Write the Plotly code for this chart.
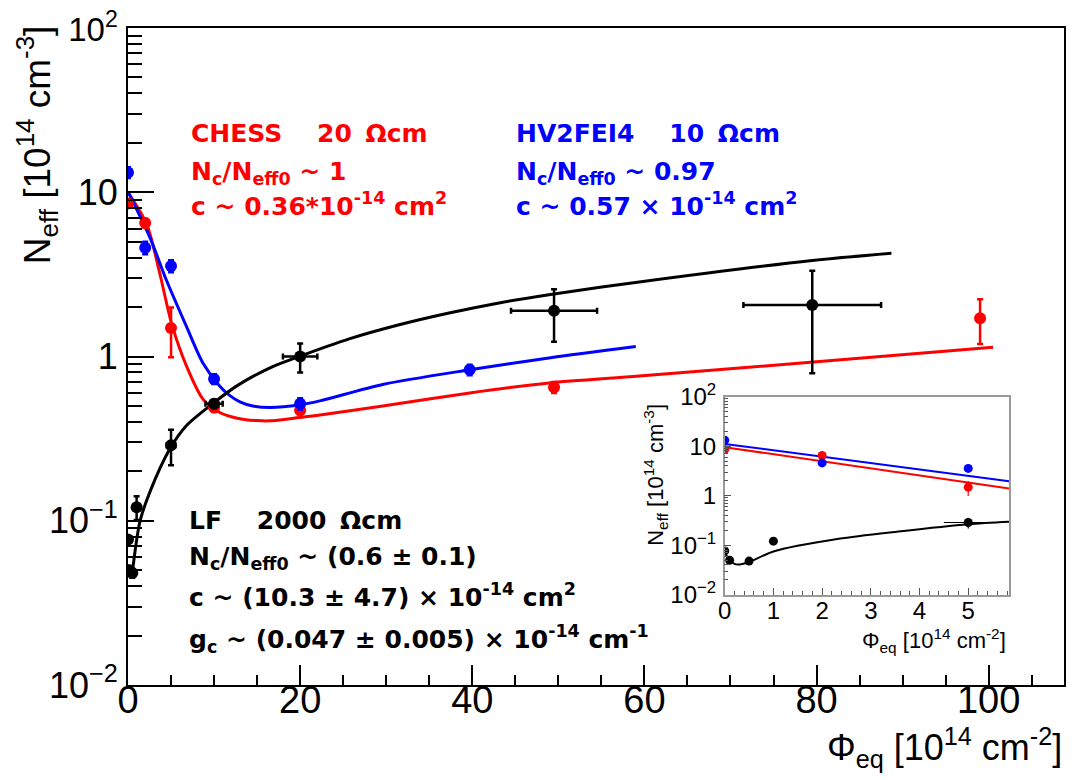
import plotly.graph_objects as go

# ---------------- data ----------------
# CHESS (red)
chess_x = [0, 2, 5, 10, 20, 49.5, 99]
chess_y = [8.55, 6.5, 1.49, 0.49, 0.47, 0.65, 1.71]
chess_ey = [0.3, 0.4, 0.5, 0.03, 0.03, 0.05, 0.52]

# HV2FEI4 (blue)
hv_x = [0, 2, 5, 10, 20, 39.7]
hv_y = [13.2, 4.6, 3.56, 0.73, 0.516, 0.83]
hv_ey = [1.0, 0.4, 0.3, 0.05, 0.04, 0.06]

# LF (black)
lf_x = [0, 0.1, 0.5, 1, 5, 10, 20, 49.5, 79.5]
lf_y = [0.077, 0.050, 0.048, 0.121, 0.288, 0.516, 1.0, 1.90, 2.06]
lf_ex = [0, 0, 0, 0, 0.5, 1, 2, 5, 8]
lf_ey = [0.003, 0.003, 0.003, 0.02, 0.07, 0.03, 0.2, 0.67, 1.27]

# fitted curves
chess_fit_x = [0, 2.17, 3.7, 5.06, 6.8, 8.73, 10.67, 12, 13.5, 15, 16.5, 19.9, 22.3, 29.6, 39.7, 48.9, 59.4, 80, 100.5]
chess_fit_y = [10.0, 6.4, 3.19, 1.59, 0.873, 0.548, 0.456, 0.43, 0.414, 0.407, 0.406, 0.425, 0.44, 0.5, 0.60, 0.69, 0.76, 0.93, 1.14]

hv_fit_x = [0, 2.55, 4.48, 6.8, 8.7, 10.67, 11.8, 13, 14.5, 16.5, 19.9, 22.3, 29.6, 39.7, 48.9, 59]
hv_fit_y = [10.1, 5.3, 2.9, 1.52, 0.914, 0.66, 0.58, 0.53, 0.50, 0.49, 0.507, 0.537, 0.676, 0.83, 0.98, 1.15]

lf_fit_x = [0.43, 1.39, 2.55, 4.87, 6.8, 10, 12.6, 16.5, 19.9, 25.7, 31.5, 37.3, 43.1, 48.9, 59.4, 79.5, 88.7]
lf_fit_y = [0.045, 0.099, 0.15, 0.274, 0.38, 0.524, 0.66, 0.853, 1.0, 1.28, 1.56, 1.84, 2.12, 2.38, 2.84, 3.84, 4.25]

# inset fits
in_chess_fit_x = [0, 5.84]
in_chess_fit_y = [9.55, 1.40]
in_hv_fit_x = [0, 5.84]
in_hv_fit_y = [11.1, 1.96]
in_lf_fit_x = [0, 0.1, 0.2, 0.3, 0.5, 1.0, 2.34, 3.57, 5, 5.84]
in_lf_fit_y = [0.072, 0.05, 0.042, 0.041, 0.046, 0.075, 0.135, 0.19, 0.267, 0.30]

# axis ticks
x_ticks = [0, 20, 40, 60, 80, 100]
x2_ticks = [0, 1, 2, 3, 4, 5]
y_ticks = [0.01, 0.1, 1, 10, 100]
y_ticktext = ["10<sup>\u22122</sup>", "10<sup>\u22121</sup>", "1", "10",
              "<span style='font-size:33px'>10<sup>2</sup></span>"]
y2_ticktext = ["10<sup>\u22122</sup>", "10<sup>\u22121</sup>", "1", "10", "10<sup>2</sup>"]
y_minor = [m * 10 ** e for e in range(-2, 2) for m in range(2, 10)]

RED = "#ff0000"
BLUE = "#0000ff"
BLACK = "#000000"
FONT = "Liberation Sans, Arial, Helvetica, sans-serif"
BFONT = "DejaVu Sans, Liberation Sans, Arial, sans-serif"

W, H = 1072, 780
L, R, T, B = 128, 6, 22, 95
PW, PH = W - L - R, H - T - B


def px(x):
    return (x - L) / PW


def py(y):
    return (H - B - y) / PH


fig = go.Figure()


def add_points(x, y, ey, color, ex=None, size=12, xa="x", ya="y", thick=2.5, capw=3):
    fig.add_trace(go.Scatter(
        x=x, y=y, mode="markers", xaxis=xa, yaxis=ya,
        marker=dict(color=color, size=size, symbol="circle"),
        error_y=dict(type="data", array=ey, color=color, thickness=thick, width=capw),
        error_x=dict(type="data", array=ex, color=color, thickness=thick, width=capw) if ex is not None else None,
        showlegend=False, cliponaxis=True,
    ))


def add_line(x, y, color, width=3, xa="x", ya="y"):
    fig.add_trace(go.Scatter(
        x=x, y=y, mode="lines", xaxis=xa, yaxis=ya,
        line=dict(color=color, width=width, shape="spline", smoothing=0.8),
        showlegend=False,
    ))


# main fits
add_line(chess_fit_x, chess_fit_y, RED)
add_line(hv_fit_x, hv_fit_y, BLUE)
add_line(lf_fit_x, lf_fit_y, BLACK)
# main points
add_points(chess_x, chess_y, chess_ey, RED)
add_points(hv_x, hv_y, hv_ey, BLUE)
add_points(lf_x, lf_y, lf_ey, BLACK, ex=lf_ex)

# inset
add_line(in_chess_fit_x, in_chess_fit_y, RED, width=2, xa="x2", ya="y2")
add_line(in_hv_fit_x, in_hv_fit_y, BLUE, width=2, xa="x2", ya="y2")
add_line(in_lf_fit_x, in_lf_fit_y, BLACK, width=2, xa="x2", ya="y2")
add_points(chess_x, chess_y, chess_ey, RED, size=9, xa="x2", ya="y2", thick=1.2, capw=0)
add_points(hv_x, hv_y, hv_ey, BLUE, size=9, xa="x2", ya="y2", thick=1.2, capw=0)
add_points(lf_x, lf_y, lf_ey, BLACK, ex=lf_ex, size=9, xa="x2", ya="y2", thick=1.2, capw=0)

fig.update_layout(
    width=W, height=H,
    margin=dict(l=L, r=R, t=T, b=B),
    paper_bgcolor="white", plot_bgcolor="white",
    font=dict(family=FONT, color="black"),
    xaxis=dict(
        domain=[0, 1], range=[0, 108.75], showgrid=False, zeroline=False,
        showline=True, mirror=True, linecolor="black", linewidth=2,
        tickmode="array", tickvals=x_ticks,
        ticks="inside", ticklen=20, tickwidth=1.5, tickcolor="black",
        tickfont=dict(size=38, family=FONT), ticklabelstandoff=-20,
        ticklabeloverflow="allow",
        minor=dict(dtick=5, ticks="inside", ticklen=10, tickwidth=1.5, tickcolor="black", showgrid=False),
    ),
    yaxis=dict(
        domain=[0, 1], type="log", range=[-2, 2], showgrid=False, zeroline=False,
        showline=True, mirror=True, linecolor="black", linewidth=2,
        tickmode="array", tickvals=y_ticks, ticktext=y_ticktext,
        ticks="inside", ticklen=26, tickwidth=1.5, tickcolor="black",
        tickfont=dict(size=36, family=FONT), ticklabelstandoff=1,
        ticklabeloverflow="allow",
        minor=dict(tickmode="array", tickvals=y_minor, ticks="inside", ticklen=14,
                   tickwidth=1.5, tickcolor="black", showgrid=False),
    ),
    xaxis2=dict(
        domain=[px(726), px(1011)], anchor="y2", range=[0, 5.84], showgrid=False, zeroline=False,
        showline=True, mirror=True, linecolor="#999999", linewidth=1.5,
        tickmode="array", tickvals=x2_ticks,
        ticks="inside", ticklen=7, tickwidth=1, tickcolor="#555555",
        tickfont=dict(size=24, family=FONT), ticklabelstandoff=-6,
        ticklabeloverflow="allow",
        minor=dict(dtick=0.2, ticks="inside", ticklen=4, tickwidth=1, tickcolor="#555555", showgrid=False),
    ),
    yaxis2=dict(
        domain=[py(594), py(394)], anchor="x2", type="log", range=[-2, 2],
        showgrid=False, zeroline=False,
        showline=True, mirror=True, linecolor="#999999", linewidth=1.5,
        tickmode="array", tickvals=y_ticks, ticktext=y2_ticktext,
        ticks="inside", ticklen=7, tickwidth=1, tickcolor="#555555",
        tickfont=dict(size=24, family=FONT), ticklabelstandoff=2,
        ticklabeloverflow="allow",
        minor=dict(tickmode="array", tickvals=y_minor, ticks="inside", ticklen=4,
                   tickwidth=1, tickcolor="#555555", showgrid=False),
    ),
)

ann = []


def text(x, y, s, color="black", size=25, bold=True, xanchor="left", yanchor="middle", angle=0, family=BFONT):
    ann.append(dict(
        x=px(x), y=py(y), xref="paper", yref="paper", text=s, showarrow=False,
        xanchor=xanchor, yanchor=yanchor, textangle=angle,
        font=dict(family=family, size=size, color=color, weight="bold" if bold else "normal"),
    ))


# red block
text(189, 128, "CHESS    20 \u2009\u03a9cm", RED)
text(189, 168, "N<sub>c</sub>/N<sub>eff0</sub> ~ 1", RED)
text(189, 200, "c ~ 0.36*10<sup>-14</sup> cm<sup>2</sup>", RED)
# blue block
text(515, 128, "HV2FEI4    10 \u2009\u03a9cm", BLUE)
text(515, 168, "N<sub>c</sub>/N<sub>eff0</sub> ~ 0.97", BLUE)
text(515, 200, "c ~ 0.57 \u00d7 10<sup>-14</sup> cm<sup>2</sup>", BLUE)
# black block
text(187, 519, "LF    2000 \u2009\u03a9cm", BLACK)
text(187, 557, "N<sub>c</sub>/N<sub>eff0</sub> ~ (0.6 \u00b1 0.1)", BLACK)
text(187, 595, "c ~ (10.3 \u00b1 4.7) \u00d7 10<sup>-14</sup> cm<sup>2</sup>", BLACK)
text(187, 639, "g<sub>c</sub> ~ (0.047 \u00b1 0.005) \u00d7 10<sup>-14</sup> cm<sup>-1</sup>", BLACK)

# axis titles (main)
text(37, 140, "N<sub>eff</sub> [10<sup>14</sup> cm<sup>-3</sup>]", size=37, bold=False,
     xanchor="center", yanchor="middle", angle=-90, family=FONT)
text(1066, 748, "\u03a6<sub>eq</sub> [10<sup>14</sup> cm<sup>-2</sup>]", size=36, bold=False,
     xanchor="right", yanchor="middle", family=FONT)
# axis titles (inset)
text(657, 473, "N<sub>eff</sub> [10<sup>14</sup> cm<sup>-3</sup>]", size=22, bold=False,
     xanchor="center", yanchor="middle", angle=-90, family=FONT)
text(1010, 640, "\u03a6<sub>eq</sub> [10<sup>14</sup> cm<sup>-2</sup>]", size=22, bold=False,
     xanchor="right", yanchor="middle", family=FONT)

fig.update_layout(annotations=ann)

fig.write_html("out.html")
